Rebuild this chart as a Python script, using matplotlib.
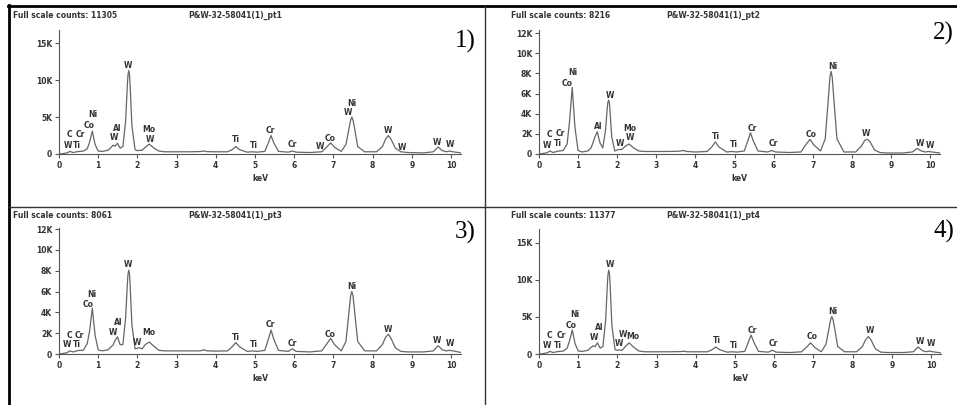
import numpy as np
import matplotlib
matplotlib.use("Agg")
import matplotlib.pyplot as plt
from matplotlib.lines import Line2D

# energia comun (keV) para los cuatro espectros
energy = [0.0, 0.1, 0.2, 0.28, 0.36, 0.45, 0.52, 0.62, 0.72, 0.78,
          0.85, 0.92, 1.0, 1.1, 1.25, 1.33, 1.38, 1.43, 1.49, 1.56,
          1.63, 1.70, 1.745, 1.76, 1.78, 1.80, 1.815, 1.86, 1.94, 2.0, 2.05, 2.12,
          2.2, 2.3, 2.42, 2.55, 2.7, 3.0, 3.3, 3.6, 3.69, 3.78,
          4.0, 4.3, 4.42, 4.51, 4.6, 4.8, 4.93, 5.05, 5.25, 5.34,
          5.41, 5.48, 5.6, 5.85, 5.95, 6.05, 6.4, 6.7, 6.82, 6.93,
          7.03, 7.2, 7.32, 7.41, 7.44, 7.47, 7.50, 7.53, 7.62, 7.8, 8.1, 8.25,
          8.33, 8.4, 8.47, 8.58, 8.72, 8.9, 9.3, 9.55, 9.67, 9.78,
          9.88, 9.96, 10.05, 10.25]

# cuentas en miles
counts_pt1 = [0.0, 0.05, 0.15, 0.35, 0.2, 0.3, 0.35, 0.4, 0.7, 1.6,
              3.1, 1.3, 0.4, 0.35, 0.5, 0.9, 1.2, 1.05, 1.45, 0.8,
              1.0, 4.5, 9.5, 10.7, 11.3, 10.7, 9.2, 3.8, 0.6, 0.45, 0.5, 0.5,
              0.9, 1.35, 0.8, 0.4, 0.3, 0.3, 0.3, 0.33, 0.4, 0.32,
              0.3, 0.3, 0.6, 1.0, 0.6, 0.25, 0.3, 0.25, 0.35, 1.5,
              2.5, 1.5, 0.35, 0.25, 0.4, 0.25, 0.2, 0.3, 0.9, 1.5,
              0.9, 0.35, 1.3, 3.8, 4.6, 5.0, 4.6, 3.8, 1.0, 0.3, 0.3, 1.0,
              2.0, 2.5, 2.0, 0.8, 0.3, 0.2, 0.15, 0.3, 0.95, 0.45,
              0.3, 0.4, 0.3, 0.15]

counts_pt2 = [0.0, 0.05, 0.12, 0.3, 0.15, 0.25, 0.3, 0.35, 1.0, 3.2,
              6.6, 2.6, 0.35, 0.2, 0.3, 0.6, 1.1, 1.7, 2.2, 1.1,
              0.6, 2.3, 4.5, 5.1, 5.35, 5.1, 4.3, 1.7, 0.3, 0.4, 0.45, 0.45,
              0.75, 1.0, 0.6, 0.3, 0.25, 0.25, 0.25, 0.28, 0.35, 0.25,
              0.2, 0.25, 0.7, 1.2, 0.7, 0.2, 0.25, 0.2, 0.3, 1.3,
              2.1, 1.3, 0.3, 0.2, 0.35, 0.2, 0.15, 0.2, 0.9, 1.45,
              0.9, 0.3, 1.5, 6.0, 7.6, 8.2, 7.6, 6.0, 1.5, 0.2, 0.2, 0.8,
              1.35, 1.45, 1.2, 0.4, 0.15, 0.1, 0.1, 0.2, 0.55, 0.3,
              0.2, 0.25, 0.2, 0.1]

counts_pt3 = [0.0, 0.05, 0.12, 0.3, 0.2, 0.3, 0.35, 0.35, 1.0, 2.2,
              4.4, 1.8, 0.4, 0.3, 0.4, 0.7, 0.85, 1.3, 1.65, 0.9,
              0.9, 3.5, 6.8, 7.65, 8.05, 7.65, 6.6, 2.8, 0.5, 0.55, 0.6, 0.5,
              0.9, 1.15, 0.75, 0.35, 0.3, 0.3, 0.3, 0.3, 0.4, 0.3,
              0.28, 0.3, 0.7, 1.1, 0.7, 0.25, 0.3, 0.25, 0.35, 1.4,
              2.3, 1.4, 0.35, 0.25, 0.5, 0.25, 0.2, 0.3, 0.9, 1.5,
              0.9, 0.3, 1.2, 4.5, 5.6, 6.0, 5.6, 4.5, 1.2, 0.3, 0.3, 0.9,
              1.6, 1.9, 1.5, 0.6, 0.25, 0.2, 0.2, 0.3, 0.8, 0.4,
              0.3, 0.35, 0.3, 0.15]

counts_pt4 = [0.0, 0.05, 0.15, 0.35, 0.2, 0.3, 0.35, 0.4, 0.8, 1.8,
              3.25, 1.4, 0.4, 0.35, 0.5, 0.9, 1.1, 1.0, 1.5, 0.8,
              1.0, 4.5, 9.5, 10.7, 11.3, 10.7, 9.2, 3.8, 0.6, 0.5, 0.55, 0.5,
              1.0, 1.5, 0.9, 0.4, 0.3, 0.3, 0.3, 0.32, 0.38, 0.3,
              0.3, 0.3, 0.6, 0.95, 0.6, 0.25, 0.3, 0.25, 0.35, 1.6,
              2.55, 1.6, 0.35, 0.25, 0.5, 0.25, 0.2, 0.3, 0.9, 1.5,
              0.9, 0.3, 1.3, 3.8, 4.65, 5.05, 4.65, 3.8, 1.0, 0.3, 0.3, 1.0,
              1.9, 2.35, 1.9, 0.7, 0.25, 0.2, 0.2, 0.3, 0.95, 0.45,
              0.3, 0.4, 0.3, 0.15]

full_scale = [11305, 8216, 8061, 11377]
sample_names = ["P&W-32-58041(1)_pt1", "P&W-32-58041(1)_pt2",
                "P&W-32-58041(1)_pt3", "P&W-32-58041(1)_pt4"]
panel_tags = ["1)", "2)", "3)", "4)"]

# etiquetas de elementos: (texto, keV, nivel en miles)
labels_pt1 = [("W", 0.22, 1.1), ("Ti", 0.45, 1.1), ("C", 0.26, 2.6), ("Cr", 0.54, 2.6),
              ("Co", 0.77, 3.9), ("Ni", 0.86, 5.3), ("W", 1.39, 2.25), ("Al", 1.49, 3.5),
              ("W", 1.77, 12.0), ("Mo", 2.30, 3.3), ("W", 2.33, 2.0), ("Ti", 4.50, 1.9),
              ("Ti", 4.97, 1.2), ("Cr", 5.40, 3.15), ("Cr", 5.94, 1.35), ("W", 6.66, 1.0),
              ("Co", 6.91, 2.1), ("Ni", 7.47, 6.9), ("W", 7.38, 5.6), ("W", 8.38, 3.15),
              ("W", 8.74, 0.9), ("W", 9.65, 1.6), ("W", 9.97, 1.35)]
labels_pt2 = [("W", 0.21, 0.82), ("Ti", 0.49, 1.0), ("C", 0.27, 1.9), ("Cr", 0.55, 2.0),
              ("Co", 0.72, 7.0), ("Ni", 0.87, 8.1), ("W", 1.81, 5.85), ("Al", 1.51, 2.7),
              ("W", 2.06, 1.0), ("Mo", 2.32, 2.5), ("W", 2.32, 1.6), ("Ti", 4.53, 1.7),
              ("Ti", 4.99, 0.9), ("Cr", 5.45, 2.55), ("Cr", 5.98, 1.05), ("Co", 6.96, 1.95),
              ("Ni", 7.52, 8.7), ("W", 8.37, 2.0), ("W", 9.74, 1.05), ("W", 10.01, 0.8)]
labels_pt3 = [("W", 0.20, 0.87), ("Ti", 0.45, 0.87), ("C", 0.26, 1.8), ("Cr", 0.51, 1.8),
              ("Co", 0.75, 4.8), ("Ni", 0.83, 5.75), ("W", 1.37, 2.05), ("Al", 1.51, 3.0),
              ("W", 1.77, 8.55), ("W", 2.00, 1.1), ("Mo", 2.30, 2.05), ("Ti", 4.50, 1.6),
              ("Ti", 4.97, 0.87), ("Cr", 5.38, 2.8), ("Cr", 5.95, 1.0), ("Co", 6.91, 1.9),
              ("Ni", 7.47, 6.5), ("W", 8.38, 2.35), ("W", 9.65, 1.25), ("W", 9.97, 1.0)]
labels_pt4 = [("W", 0.21, 1.1), ("Ti", 0.49, 1.1), ("C", 0.27, 2.55), ("Cr", 0.57, 2.55),
              ("Co", 0.83, 3.9), ("Ni", 0.91, 5.3), ("W", 1.41, 2.25), ("Al", 1.53, 3.6),
              ("W", 1.81, 12.0), ("W", 2.04, 1.35), ("W", 2.14, 2.65), ("Mo", 2.40, 2.35),
              ("Ti", 4.53, 1.8), ("Ti", 4.96, 1.2), ("Cr", 5.45, 3.15), ("Cr", 5.98, 1.35),
              ("Co", 6.96, 2.35), ("Ni", 7.50, 5.7), ("W", 8.43, 3.15), ("W", 9.71, 1.65),
              ("W", 10.01, 1.35)]

counts_all = [counts_pt1, counts_pt2, counts_pt3, counts_pt4]
labels_all = [labels_pt1, labels_pt2, labels_pt3, labels_pt4]
yticks_all = [[0, 5, 10, 15], [0, 2, 4, 6, 8, 10, 12], [0, 2, 4, 6, 8, 10, 12], [0, 5, 10, 15]]
ytop_all = [16.8, 12.3, 12.1, 16.85]

W, H = 957, 405
fig = plt.figure(figsize=(W / 100, H / 100), dpi=100)

def fx(px):
    return px / W

def fy(py):
    return 1 - py / H

# posicion de cada grafico en pixeles: (x0, y_cero, y_tope, px por keV)
boxes = [(59, 154, 30, 39.2), (539, 154, 30, 39.1), (59, 354, 228, 39.2), (539, 354, 229, 39.2)]
origins = [(0, 0), (478, 0), (0, 200), (478, 200)]

grey = "#555555"
tfont = dict(family="DejaVu Sans", weight="bold", color="#333333")

for i in range(4):
    x0, yz, yt, pxk = boxes[i]
    ox, oy = origins[i]
    x1 = x0 + 10.25 * pxk
    ax = fig.add_axes([fx(x0), fy(yz), fx(x1 - x0), (yz - yt) / H])
    ax.plot(energy, counts_all[i], color="#666666", lw=0.9)
    ax.set_xlim(0, 10.25)
    ax.set_ylim(0, ytop_all[i])
    ax.set_xticks(range(11))
    ax.set_yticks(yticks_all[i])
    ax.set_yticklabels(["0" if t == 0 else f"{t}K" for t in yticks_all[i]])
    ax.tick_params(length=3, width=0.8, color=grey, labelsize=5.5, pad=2,
                   labelcolor="#333333")
    for lab in ax.get_xticklabels() + ax.get_yticklabels():
        lab.set_fontweight("bold")
    for s in ["top", "right"]:
        ax.spines[s].set_visible(False)
    for s in ["left", "bottom"]:
        ax.spines[s].set_color(grey)
        ax.spines[s].set_linewidth(0.8)
    ax.set_xlabel("keV", fontsize=5.5, labelpad=3, **tfont)
    ax.patch.set_alpha(0)
    for txt, e, lvl in labels_all[i]:
        ax.text(e, lvl, txt, ha="center", va="center", fontsize=5.5, clip_on=False, **tfont)

    fig.text(fx(ox + 13 + (20 if ox else 0)), fy(oy + 15), f"Full scale counts: {full_scale[i]}",
             fontsize=5.5, va="center", ha="left", **tfont)
    fig.text(fx(ox + 188), fy(oy + 15), sample_names[i],
             fontsize=5.5, va="center", ha="left", **tfont)
    tag_y = [41, 33, 232, 231][i]
    fig.text(fx(ox + 455), fy(tag_y), panel_tags[i],
             fontsize=18, family="Liberation Serif", va="center", ha="left", color="black")

# marco de la figura
fig.add_artist(Line2D([fx(8), fx(957)], [fy(6), fy(6)], color="black", lw=2))
fig.add_artist(Line2D([fx(9), fx(9)], [fy(5), fy(405)], color="black", lw=2))
fig.add_artist(Line2D([fx(485), fx(485)], [fy(6), fy(405)], color="#333333", lw=1))
fig.add_artist(Line2D([fx(9), fx(957)], [fy(207), fy(207)], color="#333333", lw=1))

fig.savefig("out.png", dpi=100)
